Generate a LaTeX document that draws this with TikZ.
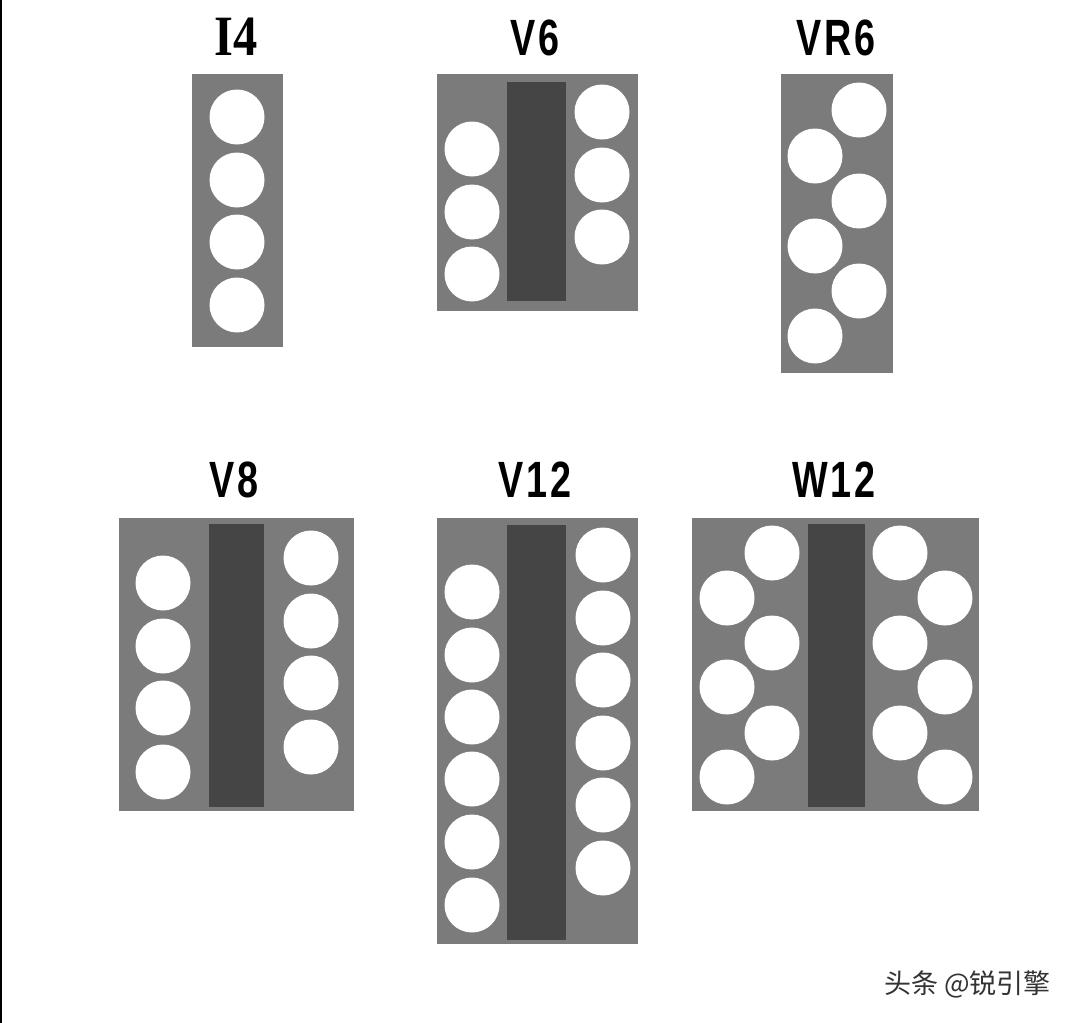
\documentclass[tikz,border=0pt]{standalone}
\usepackage{fontspec}
\newfontfamily\labfont[FakeStretch=0.74,LetterSpace=6]{Liberation Sans Bold}
\newfontfamily\serlab[FakeStretch=0.85]{Liberation Serif Bold}
\newfontfamily\cjkfont{Noto Sans CJK SC}
\definecolor{blockgray}{HTML}{7B7B7B}
\definecolor{bardark}{HTML}{454545}
\definecolor{wmark}{HTML}{333333}
\begin{document}
\begin{tikzpicture}[x=1pt,y=-1pt,
  blockbg/.style={fill=blockgray},
  barbg/.style={fill=bardark},
  cyl/.style={fill=white},
  lab/.style={font=\labfont\fontsize{51}{51}\selectfont, anchor=base, inner sep=0pt, text=black},
  serlabel/.style={font=\serlab\fontsize{57}{57}\selectfont, anchor=base, inner sep=0pt, text=black},
  wm/.style={font=\cjkfont\fontsize{27}{27}\selectfont, anchor=west, inner sep=0pt, text=wmark}]
\fill[white] (0,0) rectangle (1080,1023);
\useasboundingbox (0,0) rectangle (1080,1023);
\fill[black] (0,0) rectangle (2,1023);

% I4
\node[serlabel] (lI4) at (236,55) {I4};
\fill[blockbg] (192,74) rectangle (283,347);
\foreach \y in {117,180,242,305} \fill[cyl] (237,\y) circle (27.5pt);

% V6
\node[lab] (lV6) at (535,55) {V6};
\fill[blockbg] (437,74) rectangle (638,311);
\fill[barbg] (507,82) rectangle (566,301);
\foreach \y in {149,212,274} \fill[cyl] (472,\y) circle (27.5pt);
\foreach \y in {112,175,237} \fill[cyl] (602,\y) circle (27.5pt);

% VR6
\node[lab] (lVR6) at (836,55) {VR6};
\fill[blockbg] (781,74) rectangle (893,373);
\foreach \y in {110,201,291} \fill[cyl] (859,\y) circle (27.5pt);
\foreach \y in {156,246,336} \fill[cyl] (815,\y) circle (27.5pt);

% V8
\node[lab] (lV8) at (234,497) {V8};
\fill[blockbg] (119,518) rectangle (354,811);
\fill[barbg] (209,524) rectangle (264,807);
\foreach \y in {583,646,708,772} \fill[cyl] (163,\y) circle (27.5pt);
\foreach \y in {558,621,683,747} \fill[cyl] (311,\y) circle (27.5pt);

% V12
\node[lab] (lV12) at (535,497) {V12};
\fill[blockbg] (437,518) rectangle (638,944);
\fill[barbg] (507,525) rectangle (566,940);
\foreach \y in {592,655,717,779,842,905} \fill[cyl] (472,\y) circle (27.5pt);
\foreach \y in {555,618,680,743,805,868} \fill[cyl] (603,\y) circle (27.5pt);

% W12
\node[lab] (lW12) at (834,497) {W12};
\fill[blockbg] (692,518) rectangle (979,811);
\fill[barbg] (808,524) rectangle (865,807);
\foreach \y in {553,643,733} {
  \fill[cyl] (772,\y) circle (27.5pt);
  \fill[cyl] (900,\y) circle (27.5pt);
}
\foreach \y in {598,687,777} {
  \fill[cyl] (727,\y) circle (27.5pt);
  \fill[cyl] (945,\y) circle (27.5pt);
}

% watermark
\node[wm] (wmk) at (884,984) {头条 @锐引擎};
\end{tikzpicture}
\end{document}
